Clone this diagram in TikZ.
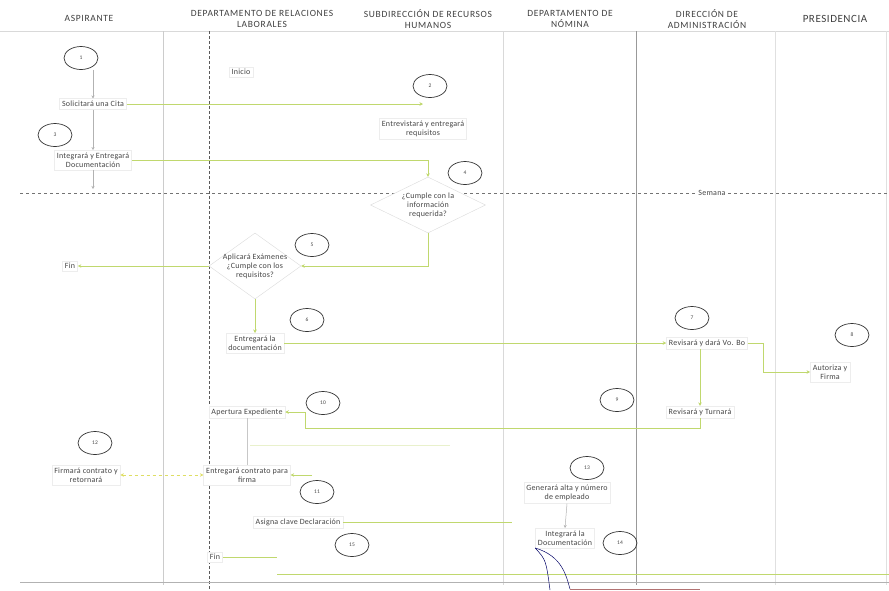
\documentclass[tikz,border=0pt]{standalone}
\usepackage{fontspec}
\setmainfont{Carlito}
\usetikzlibrary{shapes.geometric,arrows.meta}
\definecolor{lgreen}{RGB}{192,216,110}
\definecolor{lyellow}{RGB}{222,222,100}
\definecolor{tgray}{RGB}{70,70,70}
\begin{document}
\begin{tikzpicture}[x=1pt,y=-1pt,
 num/.style={ellipse,draw=black!80,line width=0.7pt,minimum width=34pt,minimum height=23pt,inner sep=0pt,font=\fontsize{5.5}{6}\selectfont,text=tgray},
 task/.style={draw=black!7,fill=white,inner sep=2.5pt,align=center,font=\fontsize{8}{9}\selectfont\addfontfeature{LetterSpace=3},text=tgray},
 dec/.style={diamond,draw=black!14,fill=white,inner sep=-3pt,align=center,font=\fontsize{8}{9}\selectfont\addfontfeature{LetterSpace=3},text=tgray},
 hdr/.style={align=center,font=\fontsize{9.5}{11.5}\selectfont\addfontfeature{LetterSpace=7},text=black!75},
 gline/.style={draw=lgreen,line width=0.9pt},
 garrow/.style={gline,-{Stealth[length=3.5pt,width=3.5pt]}},
 gyarrow/.style={draw=black!30,line width=0.5pt,-{Stealth[length=3pt,width=3pt]}},
]
\useasboundingbox (0,0) rectangle (889,590);
\fill[white] (0,0) rectangle (889,590);
% lanes
\draw[black!15] (0,31) -- (889,31);
\draw[black!20] (163,31) -- (163,585);
\draw[black!65,densely dashed,line width=0.6pt] (209,31) -- (209,590);
\draw[black!15] (503,31) -- (503,585);
\draw[black!40] (636,31) -- (636,585);
\draw[black!12] (775,31) -- (775,585);
\draw[black!12] (886,31) -- (886,585);
\draw[black!55,dashed,line width=0.6pt] (20,193) -- (889,193);
\draw[black!30] (20,582) -- (889,582);
\draw[gline] (277,574) -- (889,574);
\draw[draw=lgreen!35,line width=0.8pt] (250,445) -- (450,445);
% headers
\node[hdr] (h1) at (89,18) {ASPIRANTE};
\node[hdr] (h2) at (262,19) {DEPARTAMENTO DE RELACIONES\\LABORALES};
\node[hdr] (h3) at (428,19) {SUBDIRECCIÓN DE RECURSOS\\HUMANOS};
\node[hdr] (h4) at (570,19) {DEPARTAMENTO DE\\NÓMINA};
\node[hdr] (h5) at (707,19) {DIRECCIÓN DE\\ADMINISTRACIÓN};
\node[hdr,font=\fontsize{11}{12}\selectfont\addfontfeature{LetterSpace=5}] (h6) at (835,19) {PRESIDENCIA};
% nodes
\node[num] (c1) at (81,58) {1};
\node[task] (sol) at (93,104) {Solicitará una Cita};
\node[task] (inicio) at (241,72) {Inicio};
\node[num] (c2) at (430,86) {2};
\node[task] (entr) at (423,129) {Entrevistará y entregará\\requisitos};
\node[num] (c3) at (55,135) {3};
\node[task] (int) at (93,160) {Integrará y Entregará\\Documentación};
\node[num] (c4) at (465,173) {4};
\node[dec,minimum width=115pt,minimum height=56pt,aspect=2] (d4) at (428,205) {¿Cumple con la\\información\\requerida?};
\node[task,draw=none] (sem) at (712,193) {Semana};
\node[num] (c5) at (312,245) {5};
\node[dec,minimum width=92pt,minimum height=66pt,aspect=1.5] (d5) at (255,266) {Aplicará Exámenes\\¿Cumple con los\\requisitos?};
\node[task] (fin1) at (70,266) {Fin};
\node[num] (c6) at (307,320) {6};
\node[task] (entdoc) at (255,343) {Entregará la\\documentación};
\node[num] (c7) at (692,318) {7};
\node[task] (vobo) at (707,343) {Revisará y dará Vo. Bo};
\node[num] (c8) at (852,335) {8};
\node[task] (aut) at (830,372) {Autoriza y\\Firma};
\node[num] (c9) at (617,400) {9};
\node[task] (turn) at (700,412) {Revisará y Turnará};
\node[num] (c10) at (323,403) {10};
\node[task] (ape) at (247,412) {Apertura Expediente};
\node[num] (c12) at (95,443) {12};
\node[task] (firm) at (86,475) {Firmará contrato y\\retornará};
\node[task] (entc) at (247,475) {Entregará contrato para\\firma};
\node[num] (c11) at (317,492) {11};
\node[task] (asig) at (298,522) {Asigna clave Declaración};
\node[num] (c13) at (587,468) {13};
\node[task] (gen) at (567,493) {Generará alta y número\\de empleado};
\node[num] (c15) at (352,545) {15};
\node[task] (integ) at (565,538) {Integrará la\\Documentación};
\node[num] (c14) at (620,543) {14};
\node[task] (fin2) at (215,557) {Fin};
% connectors
\coordinate (intdown) at (93,189);
\coordinate (vb) at (763,372);
\coordinate (t1) at (700,428);
\coordinate (t2) at (305,428);
\coordinate (entcr) at (312,475);
\coordinate (asend) at (512,522);
\coordinate (f2e) at (277,557);
\coordinate (k1) at (550,590);
\coordinate (k2) at (570,589);
\coordinate (k3) at (700,589);
\draw[gyarrow] (c1.south -| sol.north) -- (sol.north);
\draw[gyarrow] (sol.south) -- (int.north);
\draw[gyarrow] (int.south) -- (intdown);
\draw[garrow] (sol.east) -- (sol.east -| entr.north);
\draw[garrow] (int.east) -| (d4.north);
\draw[garrow] (d4.south) |- (d5.east);
\draw[garrow] (d5.west) -- (fin1.east);
\draw[garrow] (d5.south) -- (entdoc.north);
\draw[garrow] (entdoc.east) -- (vobo.west);
\draw[garrow] (vobo.east) -| (vb) -- (aut.west);
\draw[garrow] (vobo.south -| turn.north) -- (turn.north);
\draw[garrow] (turn.south) -- (t1) -- (t2) |- (ape.east);
\draw[draw=black!22,line width=0.6pt] (ape.south) -- (entc.north);
\draw[draw=lyellow,line width=0.8pt,dashed,{Stealth[length=3.5pt,width=3.5pt]}-{Stealth[length=3.5pt,width=3.5pt]}] (firm.east) -- (entc.west);
\draw[garrow] (entcr) -- (entc.east);
\draw[gline] (asig.east) -- (asend);
\draw[gyarrow] (gen.south) -- (integ.north);
\draw[gline] (fin2.east) -- (f2e);
\draw[draw=black!60!blue,line width=0.5pt] (integ.south west) .. controls (546,560) .. (k1);
\draw[draw=black!60!blue,line width=0.5pt] (integ.south west) .. controls (562,556) and (566,575) .. (k2);
\draw[draw=red!45!black!55,line width=0.5pt] (k2) -- (k3);
\end{tikzpicture}
\end{document}
